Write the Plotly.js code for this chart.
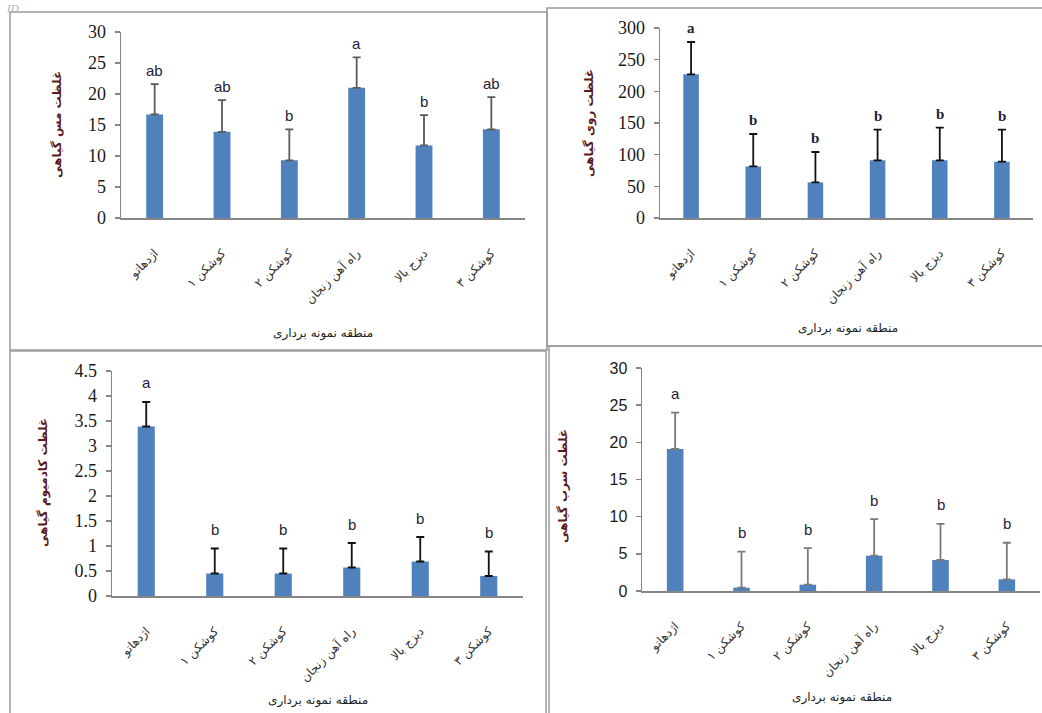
<!DOCTYPE html>
<html><head><meta charset="utf-8">
<script src="https://cdn.plot.ly/plotly-3.0.1.min.js"></script>
<style>html,body{margin:0;padding:0;background:#fff}#chart{width:1042px;height:713px}</style>
</head><body><div id="chart"></div>
<script>
// ---------- data ----------
const sites = ["اژدهاتو", "کوشکن ۱", "کوشکن ۲", "راه آهن زنجان", "دیزج بالا", "کوشکن ۳"];

const cuMean = [16.7, 13.9, 9.3, 21.0, 11.7, 14.3];
const cuErr = [4.9, 5.1, 5.0, 4.9, 4.9, 5.2];
const cuLetters = ["ab", "ab", "b", "a", "b", "ab"];

const znMean = [226.8, 81.5, 56.2, 91.0, 91.0, 88.9];
const znErr = [51.1, 51.1, 48.0, 48.4, 51.6, 50.5];
const znLetters = ["a", "b", "b", "b", "b", "b"];

const cdMean = [3.39, 0.45, 0.45, 0.57, 0.69, 0.40];
const cdErr = [0.49, 0.50, 0.50, 0.49, 0.49, 0.49];
const cdLetters = ["a", "b", "b", "b", "b", "b"];

const pbMean = [19.1, 0.45, 0.85, 4.75, 4.17, 1.57];
const pbErr = [4.9, 4.85, 4.93, 4.92, 4.87, 4.92];
const pbLetters = ["a", "b", "b", "b", "b", "b"];

const yTitles = ["غلظت مس گیاهی", "غلظت روی گیاهی", "غلظت کادمیوم گیاهی", "غلظت سرب گیاهی"];
const xTitle = "منطقه نمونه برداری";

// ---------- layout helpers ----------
const W = 1042, H = 713;
const fx = p => p / W;
const fy = p => 1 - p / H;

const panels = [
  {mean: cuMean, err: cuErr, letters: cuLetters, yMax: 30, dtick: 5,
   dom: [121, 525, 32, 218], tickFont: "Liberation Serif", tickSize: 18,
   letterFont: "Liberation Sans", letterBold: false, errColor: "#5a5a5a", yshift: 14,
   yt: [57, 125], xt: [323, 333]},
  {mean: znMean, err: znErr, letters: znLetters, yMax: 300, dtick: 50,
   dom: [660, 1033, 28, 218], tickFont: "Liberation Serif", tickSize: 18,
   letterFont: "Liberation Serif", letterBold: true, errColor: "#111111", yshift: 14,
   yt: [590, 123], xt: [848, 328]},
  {mean: cdMean, err: cdErr, letters: cdLetters, yMax: 4.5, dtick: 0.5,
   dom: [112, 523, 371, 596], tickFont: "Liberation Serif", tickSize: 18,
   letterFont: "Liberation Sans", letterBold: false, errColor: "#111111", yshift: 19,
   yt: [44, 483], xt: [318, 700]},
  {mean: pbMean, err: pbErr, letters: pbLetters, yMax: 30, dtick: 5,
   dom: [642, 1040, 368, 591], tickFont: "Liberation Sans", tickSize: 16,
   letterFont: "Liberation Sans", letterBold: false, errColor: "#7a7a7a", yshift: 19,
   yt: [563, 486], xt: [842, 697]}
];

const traces = [];
const layout = {
  width: W, height: H,
  margin: {l: 0, r: 0, t: 0, b: 0},
  paper_bgcolor: "#ffffff", plot_bgcolor: "#ffffff",
  showlegend: false,
  annotations: [], shapes: []
};

panels.forEach((p, k) => {
  const n = k === 0 ? "" : String(k + 1);
  const xa = "x" + n, ya = "y" + n;
  traces.push({
    type: "bar", x: sites, y: p.mean, xaxis: xa, yaxis: ya,
    width: 0.25,
    marker: {color: "#4F81BD", line: {width: 0}},
    error_y: {type: "data", symmetric: false, array: p.err,
              arrayminus: p.mean.map(() => 0),
              color: p.errColor, thickness: 1.8, width: 4},
    hoverinfo: "skip"
  });
  layout["xaxis" + n] = {
    domain: [fx(p.dom[0]), fx(p.dom[1])], anchor: ya,
    type: "category", range: [-0.5, 5.5],
    showline: true, linecolor: "#868686", linewidth: 1.5,
    ticks: "", showgrid: false, zeroline: false,
    tickangle: -45, ticklabelstandoff: 22,
    tickfont: {family: "DejaVu Sans", size: 12, color: "#333333"}
  };
  layout["yaxis" + n] = {
    domain: [fy(p.dom[3]), fy(p.dom[2])], anchor: xa,
    range: [0, p.yMax], dtick: p.dtick, tick0: 0,
    showline: true, linecolor: "#868686", linewidth: 1.5,
    ticks: "outside", ticklen: 5, tickcolor: "#868686", tickwidth: 1.5,
    showgrid: false, zeroline: false, ticklabelstandoff: 5,
    tickfont: {family: p.tickFont, size: p.tickSize, color: "#1a1a1a"}
  };
  p.letters.forEach((t, i) => {
    layout.annotations.push({
      xref: xa, yref: ya, x: sites[i], y: p.mean[i] + p.err[i],
      yshift: p.yshift, yanchor: "middle", showarrow: false,
      text: p.letterBold ? "<b>" + t + "</b>" : t,
      font: {family: p.letterFont, size: 15, color: "#1e1e36"}
    });
  });
  layout.annotations.push({
    xref: "paper", yref: "paper", x: fx(p.yt[0]), y: fy(p.yt[1]),
    xanchor: "center", yanchor: "middle", textangle: -90, showarrow: false,
    text: "<b>" + yTitles[k] + "</b>",
    font: {family: "DejaVu Sans", size: 12, color: "#5a1a1a"}
  });
  layout.annotations.push({
    xref: "paper", yref: "paper", x: fx(p.xt[0]), y: fy(p.xt[1]),
    xanchor: "center", yanchor: "middle", showarrow: false,
    text: xTitle,
    font: {family: "DejaVu Sans", size: 12, color: "#222222"}
  });
});

// panel frames
const frames = [[10, 12, 547, 350], [547, 8, 1045, 346], [10, 351, 546, 716], [549, 346, 1045, 716]];
frames.forEach(f => layout.shapes.push({
  type: "rect", xref: "paper", yref: "paper",
  x0: fx(f[0]), x1: fx(f[2]), y0: fy(f[3]), y1: fy(f[1]),
  line: {color: "#9a9a9a", width: 1.5}, fillcolor: "rgba(0,0,0,0)", layer: "below"
}));

// faint label fragment at top-left
layout.annotations.push({
  xref: "paper", yref: "paper", x: fx(4), y: fy(0), xanchor: "left", yanchor: "top",
  showarrow: false, text: "<i>ID</i>",
  font: {family: "Liberation Serif", size: 11, color: "#b0b0b0"}
});

Plotly.newPlot("chart", traces, layout, {displayModeBar: false, staticPlot: true});
</script>
</body></html>
